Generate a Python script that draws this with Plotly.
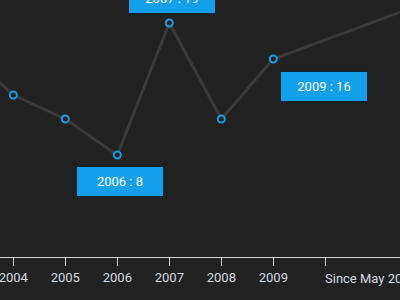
import plotly.graph_objects as go

# data
years = [2003, 2004, 2005, 2006, 2007, 2008, 2009, 2012]
values = [17, 13, 11, 8, 19, 11, 16, 20.8]
tick_vals = [2004, 2005, 2006, 2007, 2008, 2009, 2010]
tick_text = ["2004", "2005", "2006", "2007", "2008", "2009", ""]
last_label = "Since May 2010"
callouts = [(2006, 8, 3, -26), (2007, 19, 3, 25), (2009, 16, 51, -27)]

BG = "#212121"
BLUE = "#139fe9"

fig = go.Figure()
fig.add_trace(go.Scatter(
    x=years, y=values, mode="lines+markers",
    line=dict(color="#3a3a3a", width=3),
    marker=dict(symbol="circle", size=7, color=BG,
                line=dict(color="#1b9de2", width=2)),
    hoverinfo="skip", showlegend=False,
))

for yr, v, dx, dy in callouts:
    fig.add_annotation(
        x=yr, y=v, xref="x", yref="y", showarrow=False,
        text=f"{yr} : {v}", xshift=dx, yshift=dy,
        width=86, height=29, borderpad=0, borderwidth=1,
        bgcolor=BLUE, bordercolor="#0c2333",
        font=dict(family="Roboto", size=13, color="#ffffff"),
        xanchor="center", yanchor="middle",
    )

fig.add_annotation(
    x=2010, y=-0.0856, xref="x", yref="paper", showarrow=False,
    text=last_label, xanchor="left", yanchor="middle", xshift=-2,
    font=dict(family="Roboto", size=13, color="#d6dbe3"),
)

fig.update_layout(
    width=400, height=300,
    margin=dict(l=0, r=0, t=0, b=43),
    paper_bgcolor=BG, plot_bgcolor=BG,
    xaxis=dict(range=[2003.744, 2011.436], tickvals=tick_vals, ticktext=tick_text,
               showgrid=False, zeroline=False, showline=True, linecolor="#d0d0d0",
               linewidth=1, ticks="outside", ticklen=8, tickcolor="#d0d0d0",
               ticklabeloverflow="allow",
               tickfont=dict(family="Roboto", size=13, color="#d6dbe3")),
    yaxis=dict(range=[-0.5, 20.92], visible=False, showgrid=False, zeroline=False),
)

fig.write_html("out.html")
